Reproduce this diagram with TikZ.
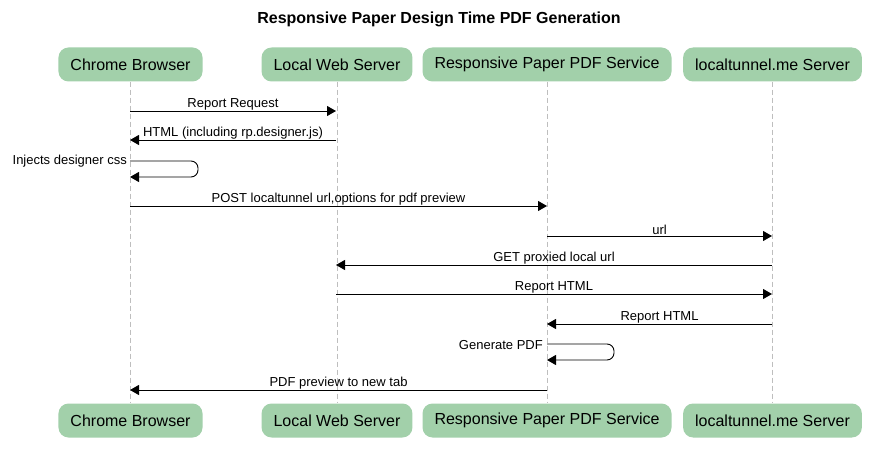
\documentclass[tikz,border=0pt]{standalone}
\usepackage{fontspec}
\setmainfont{Liberation Sans}
\usetikzlibrary{arrows.meta}
\definecolor{actorgreen}{RGB}{162,208,170}
\definecolor{lifegray}{RGB}{190,190,190}

\begin{document}
\begin{tikzpicture}[x=1pt,y=-1pt,
actor/.style={fill=actorgreen, rounded corners=10pt, minimum height=34pt, inner xsep=12pt,
  font=\fontsize{16}{18}\selectfont},
lifeline/.style={draw=lifegray, dash pattern=on 5pt off 3pt, line width=0.8pt},
msg/.style={draw, line width=0.9pt, -{Triangle[length=9pt,width=10pt]}},
lbl/.style={font=\fontsize{13}{15}\selectfont, inner sep=1pt, above=-0.5pt}]
\useasboundingbox (0,0) rectangle (877,462);

\node[font=\bfseries\fontsize{16}{18}\selectfont] (title) at (439,19) {Responsive Paper Design Time PDF Generation};

% actors
\node[actor] (cb) at (130.5,64.5) {Chrome Browser};
\node[actor] (lws) at (337,64.5) {Local Web Server};
\node[actor] (rps) at (547,64.5) {Responsive Paper PDF Service};
\node[actor] (lts) at (772.5,64.5) {localtunnel.me Server};
\node[actor] (cb2) at (130.5,420.5) {Chrome Browser};
\node[actor] (lws2) at (337,420.5) {Local Web Server};
\node[actor] (rps2) at (547,420.5) {Responsive Paper PDF Service};
\node[actor] (lts2) at (772.5,420.5) {localtunnel.me Server};

\draw[lifeline] (cb) -- (cb2);
\draw[lifeline] (lws) -- (lws2);
\draw[lifeline] (rps) -- (rps2);
\draw[lifeline] (lts) -- (lts2);

% messages
\coordinate (m1a) at (130,111); \coordinate (m1b) at (336,111);
\coordinate (m2a) at (336,140); \coordinate (m2b) at (130,140);
\coordinate (s1a) at (130,161); \coordinate (s1b) at (130,177);
\coordinate (m4a) at (130,206); \coordinate (m4b) at (547,206);
\coordinate (m5a) at (547,236); \coordinate (m5b) at (772,236);
\coordinate (m6a) at (772,265); \coordinate (m6b) at (336,265);
\coordinate (m7a) at (336,294); \coordinate (m7b) at (772,294);
\coordinate (m8a) at (772,324); \coordinate (m8b) at (547,324);
\coordinate (s2a) at (547,344); \coordinate (s2b) at (547,360);
\coordinate (m10a) at (547,390); \coordinate (m10b) at (130,390);

\draw[msg] (m1a) -- node[lbl] {Report Request} (m1b);
\draw[msg] (m2a) -- node[lbl] {HTML (including rp.designer.js)} (m2b);
\draw[msg, rounded corners=7pt] (s1a) -- ++(68,0) |- (s1b);
\node[font=\fontsize{13}{15}\selectfont, anchor=east, inner sep=1pt] (s1l) at (128,161) {Injects designer css};
\draw[msg] (m4a) -- node[lbl] {POST localtunnel url,options for pdf preview} (m4b);
\draw[msg] (m5a) -- node[lbl] {url} (m5b);
\draw[msg] (m6a) -- node[lbl] {GET proxied local url} (m6b);
\draw[msg] (m7a) -- node[lbl] {Report HTML} (m7b);
\draw[msg] (m8a) -- node[lbl] {Report HTML} (m8b);
\draw[msg, rounded corners=7pt] (s2a) -- ++(67,0) |- (s2b);
\node[font=\fontsize{13}{15}\selectfont, anchor=east, inner sep=1pt] (s2l) at (544,345) {Generate PDF};
\draw[msg] (m10a) -- node[lbl] {PDF preview to new tab} (m10b);
\end{tikzpicture}
\end{document}
